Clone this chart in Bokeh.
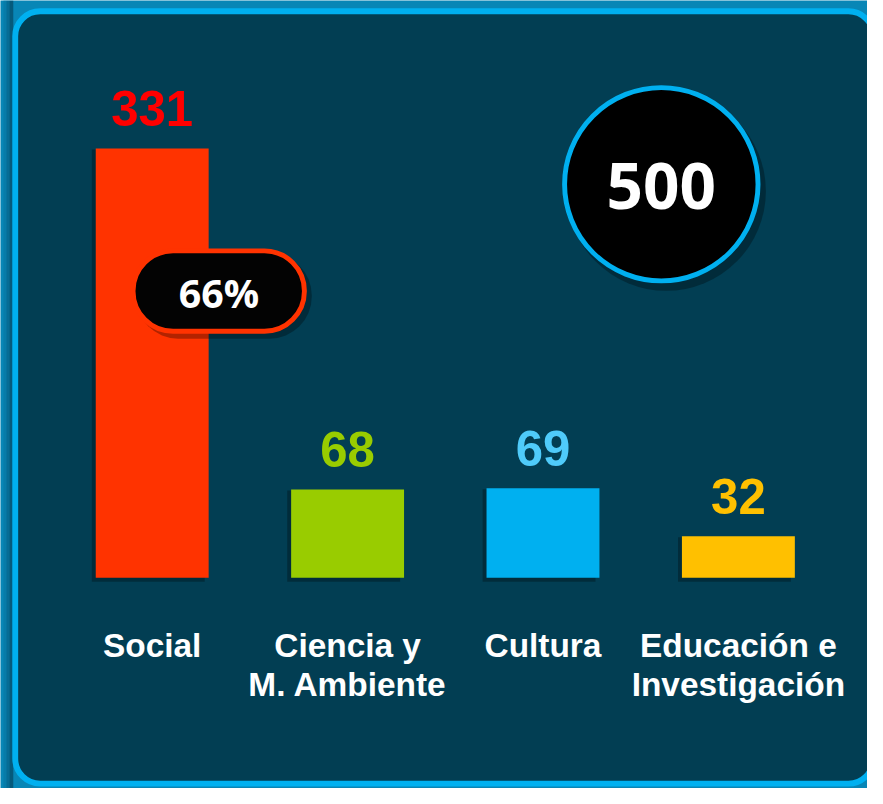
from bokeh.plotting import figure
from bokeh.models import Range1d, BoxAnnotation, ColumnDataSource, Label
from bokeh.core.properties import value
from bokeh.embed import file_html
from bokeh.resources import INLINE

# ---- data ----
categories = ["Social", "Ciencia y\nM. Ambiente", "Cultura", "Educación e\nInvestigación"]
counts = [331, 68, 69, 32]
total = 500
bar_colors = ["#FF3300", "#99CC00", "#00B0F0", "#FFC000"]
label_colors = ["#FF0000", "#99CC00", "#4FCBFA", "#FFC000"]

# ---- layout helpers (placement of decorations, in reference pixels) ----
X0, DX, BASE, K = 154.5, 199.0, 589.0, 1.3233
W, H = 867, 788
S = W / 883.0  # screen scale


def dx(px):
    return (px - X0) / DX


def dy(py):
    return (BASE - py) / K


def fs(px):
    return f"{px * S:.1f}px"


xs = list(range(len(categories)))
line1 = [c.split("\n")[0] for c in categories]
line2 = [c.split("\n")[1] if "\n" in c else "" for c in categories]

p = figure(width=W, height=H, output_backend="svg", toolbar_location=None,
           x_range=Range1d(dx(0), dx(883)), y_range=Range1d(dy(804), dy(0)),
           x_axis_type=None, y_axis_type=None, min_border=0,
           background_fill_color="#0886B6", border_fill_color="#0886B6",
           outline_line_color=None)
p.grid.visible = False

# left shading of the outer background
for a, b, c in [(3, 6, "#077BA8"), (6, 9, "#066C95"), (9, 13, "#055A7C")]:
    p.add_layout(BoxAnnotation(left=dx(a), right=dx(b), top=dy(0), bottom=dy(804),
                               fill_color=c, fill_alpha=1.0, line_alpha=0,
                               level="underlay"))
# panel frame
p.add_layout(BoxAnnotation(left=dx(15), right=dx(889), top=dy(11), bottom=dy(799),
                           fill_color="#023E53", fill_alpha=1.0,
                           line_color="#00B0F0", line_alpha=1.0, line_width=6 * S,
                           border_radius=25, level="underlay"))

src = ColumnDataSource(dict(x=xs, top=counts, color=bar_colors, lcolor=label_colors,
                            label=[str(c) for c in counts], l1=line1, l2=line2))

bw = 115 / DX
# bar shadows
p.vbar(x=[x - 4 / DX for x in xs], top=[c - 1 / K for c in counts], bottom=-4 / K,
       width=bw, fill_color="#000000", fill_alpha=0.28, line_alpha=0)
p.vbar(x="x", top="top", bottom=0, width=bw, fill_color="color", line_alpha=0, source=src)

# value labels
p.text(x="x", y="top", text="label", text_color="lcolor", source=src,
       text_font=value("Liberation Sans"), text_font_style="bold",
       text_font_size=fs(50), text_align="center", text_baseline="alphabetic",
       y_offset=-41 * S)

# category labels (two lines)
for col, off in [("l1", 69), ("l2", 109)]:
    p.text(x="x", y=0, text=col, source=src, text_color="white",
           text_font=value("Liberation Sans"), text_font_style="bold",
           text_font_size=fs(34), text_align="center", text_baseline="alphabetic",
           y_offset=off * S)

# total circle
cx, cy = dx(673), dy(187.5)
p.scatter(x=[cx + 5 / DX], y=[cy - 7 / K], size=203 * S, marker="circle",
          fill_color="#000000", fill_alpha=0.3, line_alpha=0)
p.scatter(x=[cx], y=[cy], size=197 * S, marker="circle", fill_color="#000000",
          line_color="#00B0F0", line_width=5 * S)
p.text(x=[cx], y=[cy], text=[str(total)], text_color="white",
       text_font=value("Open Sans"), text_font_style="bold", text_font_size=fs(65),
       text_align="center", text_baseline="alphabetic", y_offset=2 * S)

# share pill
pct = round(counts[0] / total * 100)
p.add_layout(BoxAnnotation(left=dx(138), right=dx(317), top=dy(258), bottom=dy(345),
                           fill_color="#000000", fill_alpha=0.3, line_alpha=0,
                           border_radius=42))
p.add_layout(BoxAnnotation(left=dx(135), right=dx(309.5), top=dy(255.5), bottom=dy(337.5),
                           fill_color="#030303", fill_alpha=1.0,
                           line_color="#FF3300", line_alpha=1.0, line_width=5 * S,
                           border_radius=40))
p.add_layout(Label(x=dx(222.5), y=dy(296.5), text=f"{pct}%", text_color="white",
                   text_font="Open Sans", text_font_style="bold",
                   text_font_size=fs(40), text_align="center",
                   text_baseline="alphabetic", y_offset=-2 * S))

open("out.html", "w").write(file_html(p, INLINE))
